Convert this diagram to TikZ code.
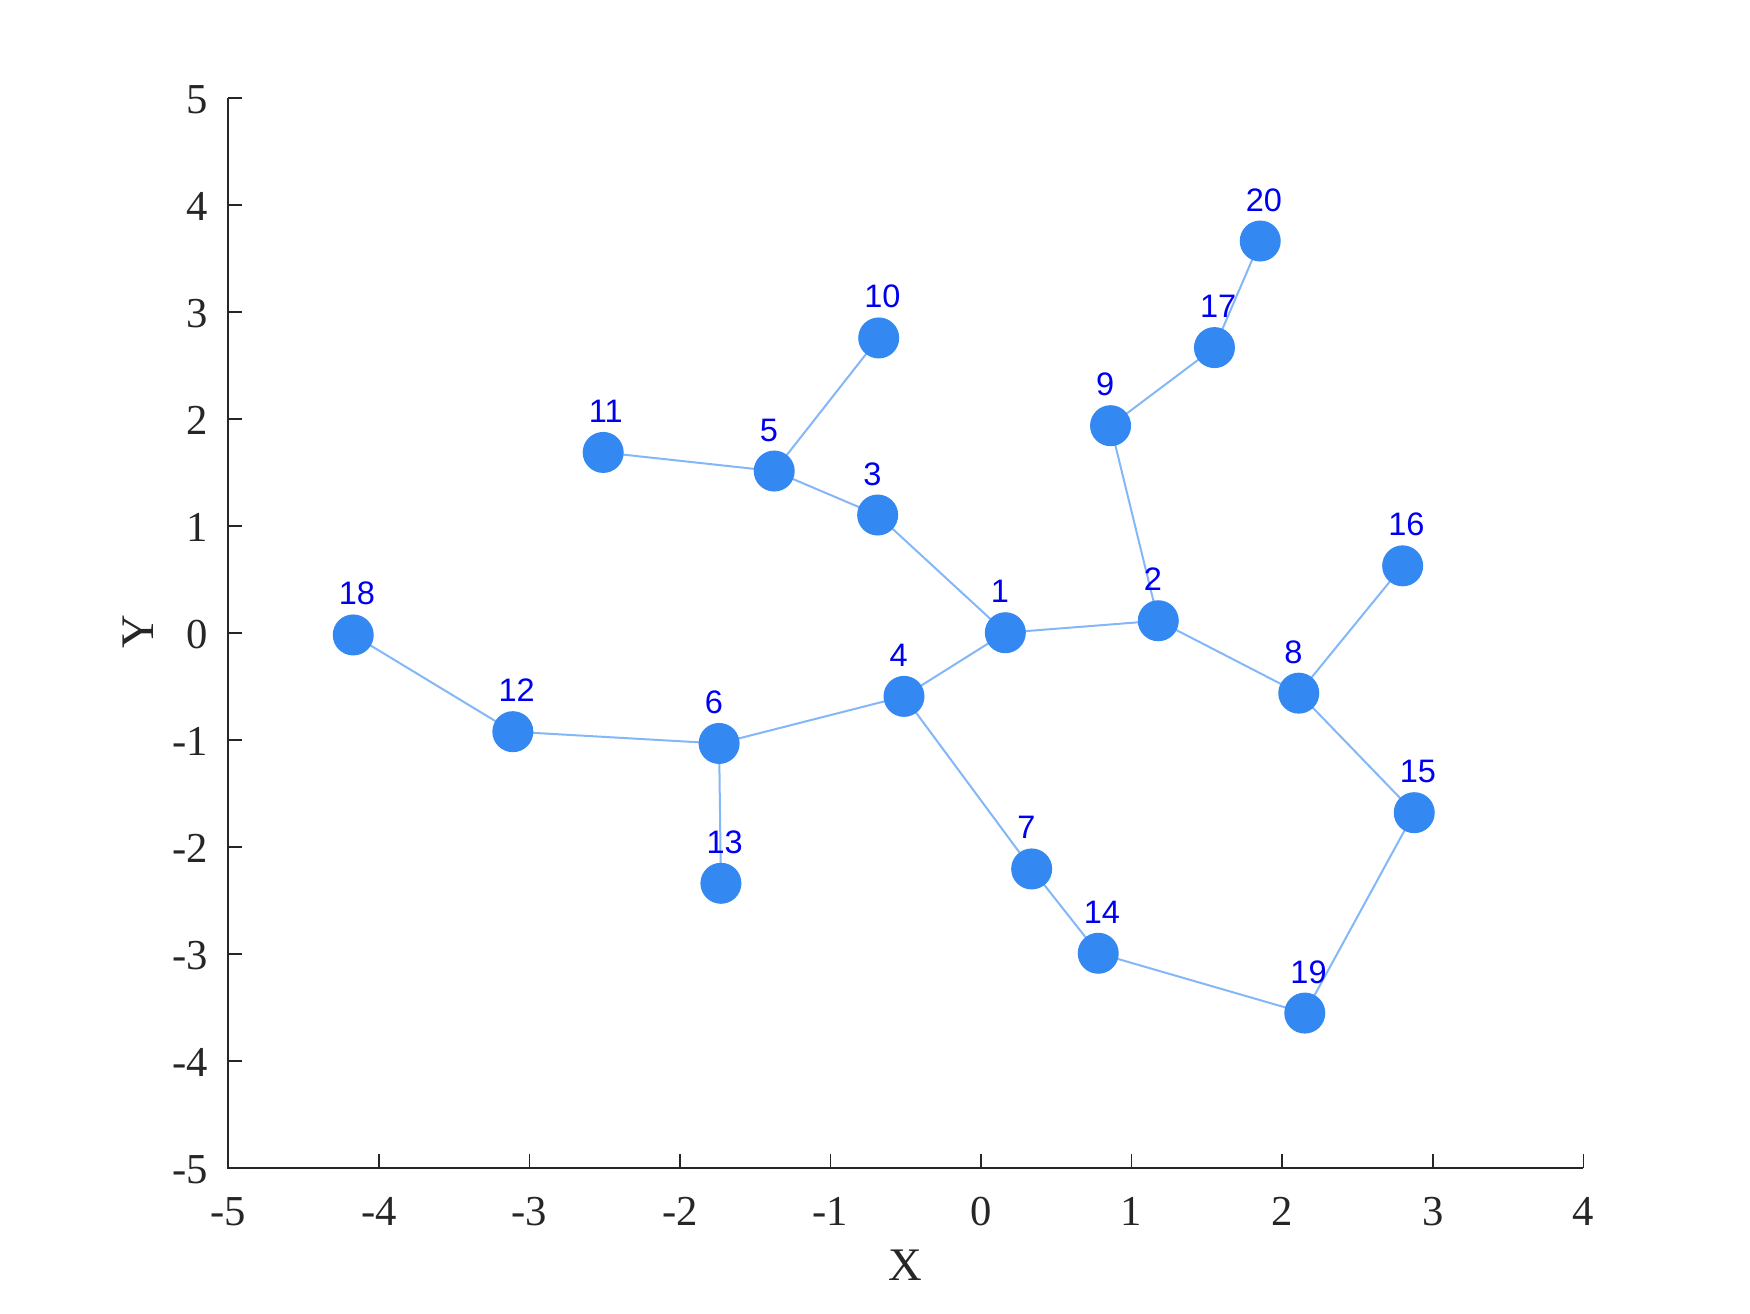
\documentclass[tikz,border=0pt]{standalone}
\usepackage{fontspec}
\setmainfont{Liberation Serif}
\newfontfamily\arialf{Liberation Sans}
\definecolor{nodeblue}{RGB}{51,136,242}
\definecolor{axisgray}{RGB}{38,38,38}
\definecolor{labelblue}{RGB}{0,0,240}
\begin{document}
\begin{tikzpicture}[x=45.168pt,y=32.097pt,
  vtx/.style={circle,fill=nodeblue,draw=none,minimum size=12.3pt,inner sep=0pt},
  edgeline/.style={draw=nodeblue,draw opacity=0.6,line width=0.6pt},
  vlabel/.style={anchor=base west,text=labelblue,font=\arialf\fontsize{9.75pt}{11pt}\selectfont,inner sep=0pt,xshift=-4.5pt,yshift=9pt},
  axisline/.style={draw=axisgray,line width=0.5pt},
  ticklabel/.style={text=axisgray,font=\fontsize{12.8pt}{15pt}\selectfont,inner sep=0pt},
  axlabel/.style={text=axisgray,font=\fontsize{14pt}{16pt}\selectfont,inner sep=0pt}]
\useasboundingbox[fill=white] (-6.5163,-6.3534) rectangle (5.1069,5.9188);
% axes
\draw[axisline] (-5,5) -- (-5,-5) -- (4,-5);
\foreach \k in {-5,...,4} {
  \draw[axisline] (\k,-5) -- ++(0,4.2pt);
  \node[ticklabel,anchor=base] (xt\k) at ([yshift=-17.3pt]\k,-5) {\k};
}
\foreach \k in {-5,...,5} {
  \draw[axisline] (-5,\k) -- ++(4.2pt,0);
  \node[ticklabel,anchor=base east] (yt\k) at ([xshift=-6pt,yshift=-4.5pt]-5,\k) {\k};
}
\node[axlabel,anchor=base] (xlab) at (-0.5055,-6.045) {X};
\node[axlabel,anchor=base,rotate=90] (ylab) at (-5.4934,0.0145) {Y};
% vertices
\foreach \n/\px/\py in {1/0.161/0.005, 2/1.177/0.117, 3/-0.687/1.105, 4/-0.512/-0.590,
  5/-1.374/1.516, 6/-1.74/-1.03, 7/0.336/-2.203, 8/2.11/-0.56, 9/0.86/1.94,
  10/-0.68/2.76, 11/-2.51/1.69, 12/-3.11/-0.92, 13/-1.728/-2.337, 14/0.778/-2.991,
  15/2.877/-1.677, 16/2.80/0.63, 17/1.55/2.67, 18/-4.170/-0.016, 19/2.15/-3.55, 20/1.854/3.666} {
  \coordinate (c\n) at (\px,\py);
}
\foreach \a/\b in {1/2,1/3,1/4,2/8,2/9,3/5,4/6,4/7,5/10,5/11,6/12,6/13,7/14,8/15,8/16,9/17,12/18,14/19,15/19,17/20} {
  \draw[edgeline] (c\a) -- (c\b);
}
\foreach \n in {1,...,20} {
  \node[vtx] (v\n) at (c\n) {};
}
\foreach \n in {1,...,20} {
  \node[vlabel] (l\n) at (c\n) {\n};
}
\end{tikzpicture}
\end{document}
